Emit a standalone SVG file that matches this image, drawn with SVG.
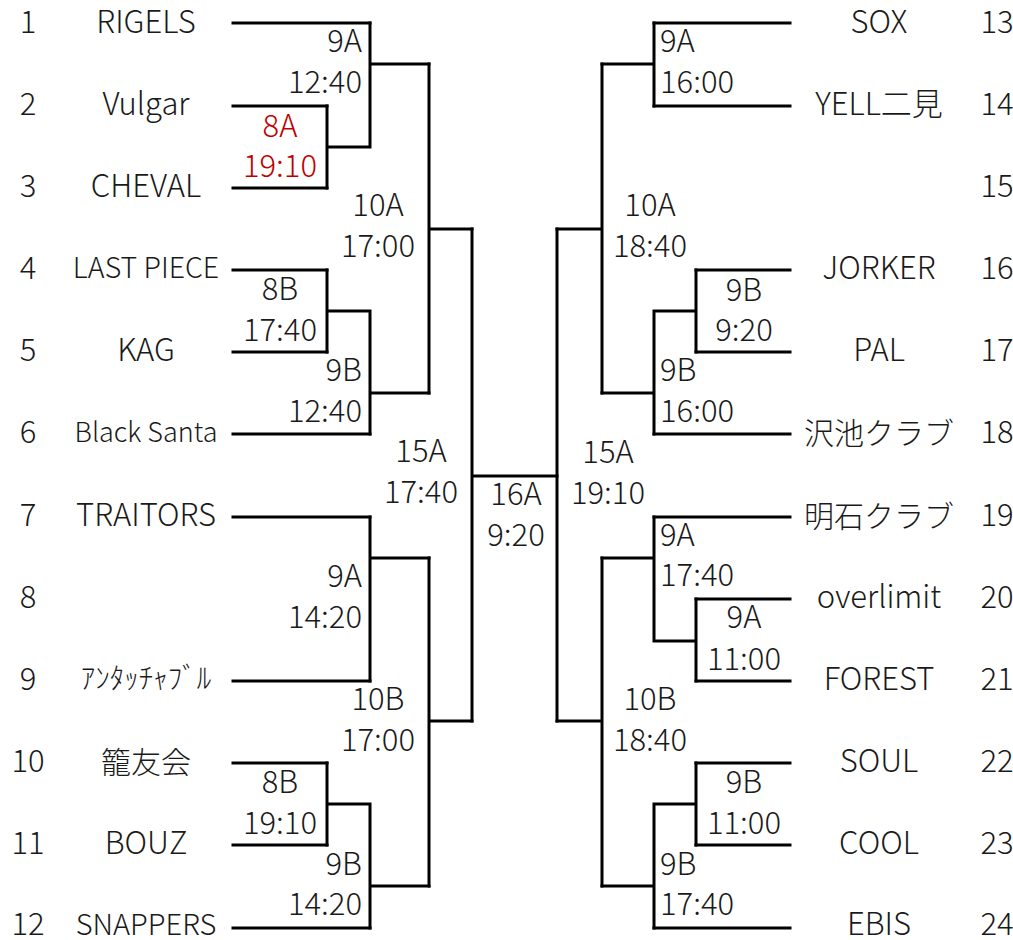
<svg xmlns="http://www.w3.org/2000/svg" width="1013" height="940" viewBox="0 0 1013 940">
<style>
text{font-family:"Noto Sans CJK JP","Noto Sans",sans-serif;font-size:31px;fill:#1a1a1a;font-weight:300}
.j{font-size:30px}
.c{text-anchor:middle}
.r{text-anchor:end}
.l{text-anchor:start}
.red{fill:#c00000}
.ln{fill:none;stroke:#000;stroke-width:3;stroke-linecap:square;stroke-linejoin:miter}
</style>
<rect width="1013" height="940" fill="#fff"/>
<g id="connectors" class="ln">
<path d="M233,23H370M233,106H327M233,188H327M233,270H327M233,352H327M233,434H370M233,517H370M233,681H370M233,763H327M233,845H327M233,928H370"/>
<path d="M327,106V188M327,147H370M370,23V147M370,64H429"/>
<path d="M327,270V352M327,311H370M370,311V434M370,393H429"/>
<path d="M429,64V393M429,229H472"/>
<path d="M370,517V681M370,558H429"/>
<path d="M327,763V845M327,804H370M370,804V928M370,886H429"/>
<path d="M429,558V886M429,721H472"/>
<path d="M472,229V721M472,476H557"/>
<path d="M654,23H790M654,106H790M696,270H790M696,352H790M654,434H790M654,517H790M696,599H790M696,681H790M696,763H790M696,845H790M654,928H790"/>
<path d="M654,23V106M654,64H602"/>
<path d="M696,270V352M696,311H654M654,311V434M654,393H602"/>
<path d="M602,64V393M602,229H557"/>
<path d="M654,517V641M654,558H602M696,599V681M696,641H654"/>
<path d="M696,763V845M696,804H654M654,804V928M654,886H602"/>
<path d="M602,558V886M602,721H557"/>
<path d="M557,229V721"/>
</g>
<g id="team1"><text class="c" x="28" y="33">1</text><text class="c" x="146" y="33">RIGELS</text></g>
<g id="team2"><text class="c" x="28" y="115">2</text><text class="c" x="146" y="115">Vulgar</text></g>
<g id="team3"><text class="c" x="28" y="197">3</text><text class="c" x="146" y="197">CHEVAL</text></g>
<g id="team4"><text class="c" x="28" y="279">4</text><text class="c" x="146" y="278" style="font-size:28.5px">LAST PIECE</text></g>
<g id="team5"><text class="c" x="28" y="361">5</text><text class="c" x="146" y="361">KAG</text></g>
<g id="team6"><text class="c" x="28" y="443">6</text><text class="c" x="146" y="442" style="font-size:27px">Black Santa</text></g>
<g id="team7"><text class="c" x="28" y="526">7</text><text class="c" x="146" y="526">TRAITORS</text></g>
<g id="team8"><text class="c" x="28" y="608">8</text></g>
<g id="team9"><text class="c" x="28" y="690">9</text><text class="c" x="146" y="689" style="font-size:29px">ｱﾝﾀｯﾁｬﾌﾞﾙ</text></g>
<g id="team10"><text class="c" x="28" y="772">10</text><text class="c j" x="146" y="773">籠友会</text></g>
<g id="team11"><text class="c" x="28" y="854">11</text><text class="c" x="146" y="854">BOUZ</text></g>
<g id="team12"><text class="c" x="28" y="935">12</text><text class="c" x="146" y="935" style="font-size:29px">SNAPPERS</text></g>
<g id="team13"><text class="c" x="997" y="33">13</text><text class="c" x="879" y="33">SOX</text></g>
<g id="team14"><text class="c" x="997" y="115">14</text><text class="c" x="879" y="115">YELL二見</text></g>
<g id="team15"><text class="c" x="997" y="197">15</text></g>
<g id="team16"><text class="c" x="997" y="279">16</text><text class="c" x="879" y="279">JORKER</text></g>
<g id="team17"><text class="c" x="997" y="361">17</text><text class="c" x="879" y="361">PAL</text></g>
<g id="team18"><text class="c" x="997" y="443">18</text><text class="c j" x="879" y="444">沢池クラブ</text></g>
<g id="team19"><text class="c" x="997" y="526">19</text><text class="c j" x="879" y="527">明石クラブ</text></g>
<g id="team20"><text class="c" x="997" y="608">20</text><text class="c" x="879" y="608">overlimit</text></g>
<g id="team21"><text class="c" x="997" y="690">21</text><text class="c" x="879" y="690">FOREST</text></g>
<g id="team22"><text class="c" x="997" y="772">22</text><text class="c" x="879" y="772">SOUL</text></g>
<g id="team23"><text class="c" x="997" y="854">23</text><text class="c" x="879" y="854">COOL</text></g>
<g id="team24"><text class="c" x="997" y="935">24</text><text class="c" x="879" y="935">EBIS</text></g>
<g id="m-L9A-1"><text class="r" x="362" y="52">9A</text><text class="r" x="362" y="93">12:40</text></g>
<g id="m-L8A"><text class="c red" x="280" y="137">8A</text><text class="c red" x="280" y="177">19:10</text></g>
<g id="m-L10A"><text class="c" x="378" y="216">10A</text><text class="c" x="378" y="257">17:00</text></g>
<g id="m-L8B-1"><text class="c" x="280" y="300">8B</text><text class="c" x="280" y="341">17:40</text></g>
<g id="m-L9B-1"><text class="r" x="362" y="381">9B</text><text class="r" x="362" y="422">12:40</text></g>
<g id="m-L15A"><text class="c" x="421" y="462">15A</text><text class="c" x="421" y="503">17:40</text></g>
<g id="m-16A"><text class="c" x="516" y="505">16A</text><text class="c" x="516" y="546">9:20</text></g>
<g id="m-R15A"><text class="c" x="608" y="463">15A</text><text class="c" x="608" y="504">19:10</text></g>
<g id="m-L9A-2"><text class="r" x="362" y="587">9A</text><text class="r" x="362" y="628">14:20</text></g>
<g id="m-L10B"><text class="c" x="378" y="710">10B</text><text class="c" x="378" y="751">17:00</text></g>
<g id="m-L8B-2"><text class="c" x="280" y="793">8B</text><text class="c" x="280" y="834">19:10</text></g>
<g id="m-L9B-2"><text class="r" x="362" y="875">9B</text><text class="r" x="362" y="915">14:20</text></g>
<g id="m-R9A-1"><text class="l" x="660" y="52">9A</text><text class="l" x="660" y="93">16:00</text></g>
<g id="m-R10A"><text class="c" x="650" y="216">10A</text><text class="c" x="650" y="257">18:40</text></g>
<g id="m-R9B-in1"><text class="c" x="744" y="301">9B</text><text class="c" x="744" y="341">9:20</text></g>
<g id="m-R9B-1"><text class="l" x="660" y="381">9B</text><text class="l" x="660" y="422">16:00</text></g>
<g id="m-R9A-2"><text class="l" x="660" y="546">9A</text><text class="l" x="660" y="586">17:40</text></g>
<g id="m-R9A-in"><text class="c" x="744" y="628">9A</text><text class="c" x="744" y="670">11:00</text></g>
<g id="m-R10B"><text class="c" x="650" y="710">10B</text><text class="c" x="650" y="751">18:40</text></g>
<g id="m-R9B-in2"><text class="c" x="744" y="793">9B</text><text class="c" x="744" y="834">11:00</text></g>
<g id="m-R9B-2"><text class="l" x="660" y="875">9B</text><text class="l" x="660" y="915">17:40</text></g>
</svg>
